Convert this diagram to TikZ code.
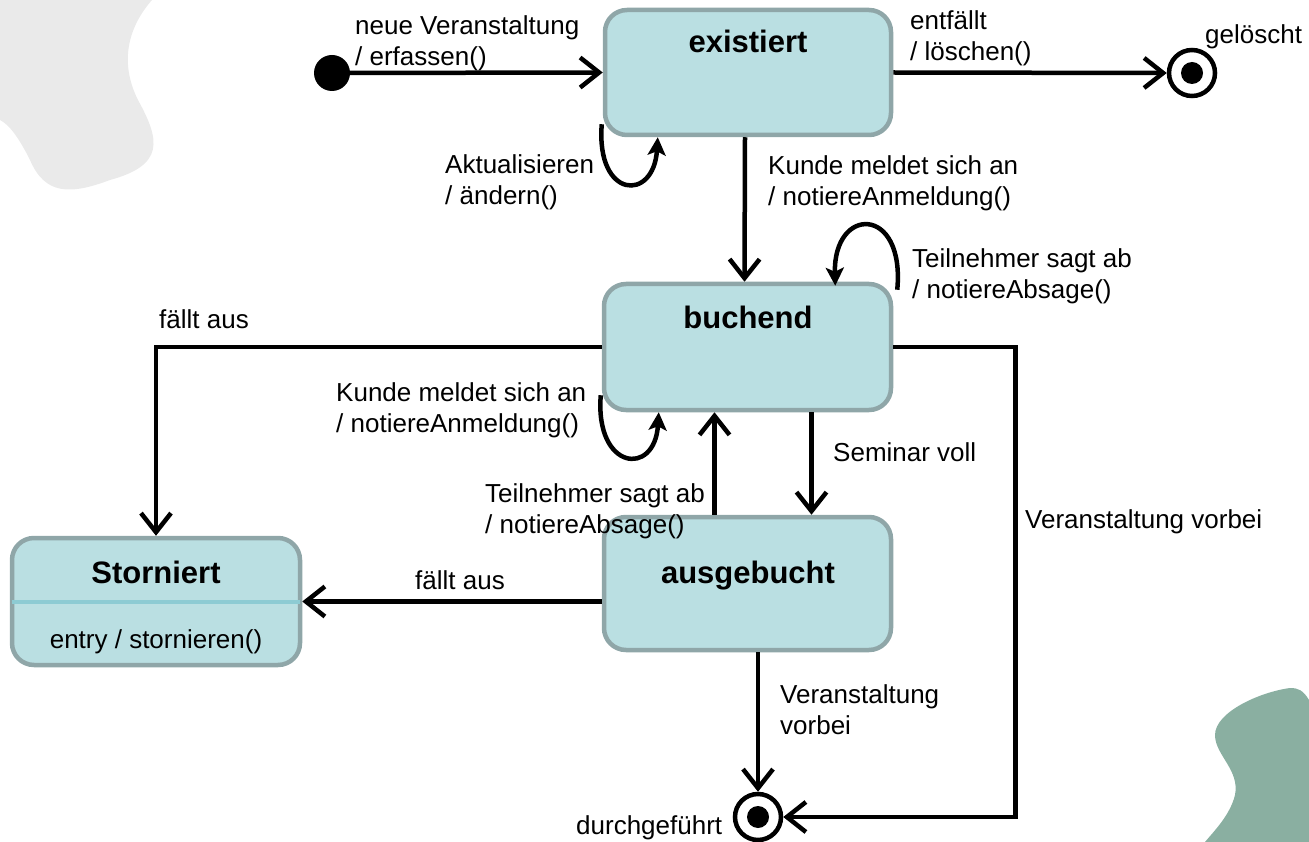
\documentclass[tikz,border=0pt]{standalone}
\usepackage{fontspec}
\setmainfont{Liberation Sans}
\usetikzlibrary{arrows.meta,calc}
\definecolor{boxfill}{HTML}{BADFE2}
\definecolor{boxline}{HTML}{8FA6A8}
\definecolor{divline}{HTML}{8DCBD3}
\definecolor{blobgray}{HTML}{EAEAEA}
\definecolor{blobgreen}{HTML}{8AAFA1}
\begin{document}
\begin{tikzpicture}[x=1pt,y=-1pt,
  lbl/.style={font=\fontsize{26}{31}\selectfont, inner sep=0pt, align=left},
  title/.style={font=\fontsize{31}{36}\selectfont\bfseries, inner sep=0pt, anchor=base},
  statebox/.style={draw=boxline, fill=boxfill, line width=4.5pt, rounded corners=22pt, inner sep=0pt},
  conn/.style={line width=4.5pt, -{Straight Barb[length=19pt,width=30pt]}},
  loopc/.style={line width=4.5pt, -{Stealth[length=18pt,width=18pt,inset=4pt]}},
  finalst/.style={circle, draw, line width=4.5pt, minimum size=46pt, inner sep=0pt},
]
\useasboundingbox (0,0) rectangle (1309,842);
% background blobs
\fill[blobgray] (0,0) -- (152,0) .. controls (130,25) and (118,60) .. (138,100)
  .. controls (160,140) and (165,165) .. (110,180)
  .. controls (70,195) and (45,195) .. (30,160)
  .. controls (20,140) and (10,125) .. (0,120) -- cycle;
\fill[blobgreen] (1309,700) .. controls (1303,690) and (1298,688) .. (1290,688)
  .. controls (1260,692) and (1215,712) .. (1215,735)
  .. controls (1215,755) and (1240,770) .. (1235,795)
  .. controls (1230,815) and (1215,830) .. (1205,842) -- (1309,842) -- cycle;

% states
\node[statebox, minimum width=286pt, minimum height=125pt] (ex) at (748,72.5) {};
\node[statebox, minimum width=287pt, minimum height=126pt] (bu) at (747.5,347) {};
\node[statebox, minimum width=287pt, minimum height=133pt] (au) at (747.5,583.5) {};
\node[statebox, minimum width=288pt, minimum height=127pt] (st) at (156,601.5) {};
\draw[divline, line width=4pt] ([xshift=2pt]st.west) -- ([xshift=-2pt]st.east);

\node[title] (tex) at (748,53) {existiert};
\node[title] (tbu) at (748,328) {buchend};
\node[title] (tau) at (748,583) {ausgebucht};
\node[title] (tst) at (156,583) {Storniert};
\node[lbl, anchor=base] (est) at (156,648) {entry / stornieren()};

\node[circle, fill=black, minimum size=36pt, inner sep=0pt] (init) at (332,73) {};
\node[finalst] (gel) at (1192,73) {};
\fill (gel.center) circle[radius=11pt];
\node[finalst] (df) at (758,817) {};
\fill (df.center) circle[radius=11pt];

% transitions
\draw[conn] (init) -- (ex.west);
\draw[conn] (ex.east) -- (gel.west);
\draw[conn] ([xshift=-3pt]ex.south) -- ([xshift=-3pt]bu.north);
\draw[loopc] ([yshift=13pt,xshift=-1pt]ex.south west) .. controls +(-6,75) and +(-4,65) .. ([xshift=55pt]ex.south west);
\draw[loopc] ([xshift=4pt,yshift=-8pt]bu.north east) .. controls +(8,-85) and +(-2,-80) .. ([xshift=-58pt,yshift=-4pt]bu.north east);
\draw[loopc] ([yshift=17pt,xshift=-1pt]bu.south west) .. controls +(-6,75) and +(-4,65) .. ([xshift=57pt]bu.south west);
\draw[conn] (bu.west) -| (st.north);
\draw[conn] ([xshift=-33pt]au.north) -- ([xshift=-33pt]bu.south);
\draw[conn] ([xshift=64pt]bu.south) -- ([xshift=64pt]au.north);
\draw[conn] (bu.east) -- ++(122,0) |- (df.east);
\draw[conn] (au.west |- st.east) -- (st.east);
\draw[conn] (df.north |- au.south) -- (df.north);

% labels
\node[lbl, anchor=north west] (l1) at (355,15) {neue Veranstaltung\\/ erfassen()};
\node[lbl, anchor=north west] (l2) at (910,10) {entfällt\\/ löschen()};
\node[lbl, anchor=base west] (l3) at (1205,44) {gelöscht};
\node[lbl, anchor=north west] (l4) at (445,154) {Aktualisieren\\/ ändern()};
\node[lbl, anchor=north west] (l5) at (768,155) {Kunde meldet sich an\\/ notiereAnmeldung()};
\node[lbl, anchor=north west] (l6) at (912,248) {Teilnehmer sagt ab\\/ notiereAbsage()};
\node[lbl, anchor=base west] (l7) at (159,328) {fällt aus};
\node[lbl, anchor=north west] (l8) at (336,382) {Kunde meldet sich an\\/ notiereAnmeldung()};
\node[lbl, anchor=north west] (l9) at (485,483) {Teilnehmer sagt ab\\/ notiereAbsage()};
\node[lbl, anchor=base west] (l10) at (833,461) {Seminar voll};
\node[lbl, anchor=base west] (l11) at (1025,528) {Veranstaltung vorbei};
\node[lbl, anchor=base west] (l12) at (415,589) {fällt aus};
\node[lbl, anchor=north west] (l13) at (780,684) {Veranstaltung\\vorbei};
\node[lbl, anchor=base west] (l14) at (576,834) {durchgeführt};
\end{tikzpicture}
\end{document}
